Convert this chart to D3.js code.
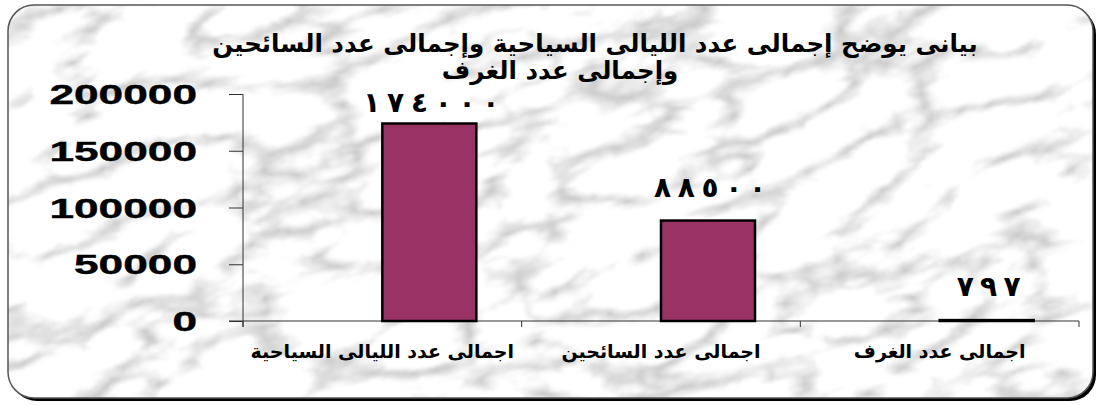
<!DOCTYPE html>
<html lang="ar">
<head>
<meta charset="utf-8">
<script src="https://cdn.jsdelivr.net/npm/d3@7"></script>
<style>
  html, body { margin: 0; padding: 0; background: #ffffff; }
  svg { display: block; }
</style>
</head>
<body>
<svg id="chart" width="1099" height="405"></svg>
<script>
// ---- data ----
const categories = ["اجمالى عدد الليالى السياحية", "اجمالى عدد السائحين", "اجمالى عدد الغرف"];
const values = [174000, 88500, 797];
const yTicks = [0, 50000, 100000, 150000, 200000];
const titleLines = ["بيانى يوضح إجمالى عدد الليالى السياحية وإجمالى عدد السائحين", "وإجمالى عدد الغرف"];

const W = 1099, H = 405;
const svg = d3.select("#chart");
const defs = svg.append("defs");

// marble texture filter
const f = defs.append("filter").attr("id", "marble")
  .attr("x", "-50%").attr("y", "-50%").attr("width", "200%").attr("height", "200%")
  .attr("color-interpolation-filters", "sRGB");
f.append("feTurbulence").attr("type", "turbulence")
  .attr("baseFrequency", "0.008 0.018").attr("numOctaves", 5).attr("seed", 11).attr("result", "t");
f.append("feColorMatrix").attr("in", "t").attr("type", "matrix")
  .attr("values", "0.8 0 0 0 0.76  0.8 0 0 0 0.76  0.8 0 0 0 0.76  0 0 0 0 1").attr("result", "c");
f.append("feGaussianBlur").attr("in", "c").attr("stdDeviation", 1.4);

const frame = {x: 8, y: 5, w: 1085, h: 393, r: 26};
defs.append("clipPath").attr("id", "frameClip").append("rect")
  .attr("x", frame.x).attr("y", frame.y).attr("width", frame.w).attr("height", frame.h)
  .attr("rx", frame.r).attr("ry", frame.r);

// shadow (thick dark bottom/right edge)
svg.append("rect")
  .attr("x", frame.x + 3).attr("y", frame.y + 3).attr("width", frame.w).attr("height", frame.h)
  .attr("rx", frame.r).attr("ry", frame.r).attr("fill", "#000");

// marble background
const bg = svg.append("g").attr("clip-path", "url(#frameClip)");
bg.append("rect").attr("x", frame.x).attr("y", frame.y).attr("width", frame.w).attr("height", frame.h).attr("fill", "#e6e6e6");
bg.append("g").attr("transform", "rotate(-15 550 200)")
  .append("rect").attr("x", -200).attr("y", -400).attr("width", 1500).attr("height", 1200)
  .attr("filter", "url(#marble)");
svg.append("rect")
  .attr("x", frame.x).attr("y", frame.y).attr("width", frame.w).attr("height", frame.h)
  .attr("rx", frame.r).attr("ry", frame.r).attr("fill", "none")
  .attr("stroke", "#555").attr("stroke-width", 1.5);

// scales
const x = d3.scaleBand().domain(categories).range([243, 1079]).padding(0);
const y = d3.scaleLinear().domain([0, 200000]).range([321, 94]);
const bw = x.bandwidth();

const fontLatin = "'Liberation Sans', Arial, 'DejaVu Sans', sans-serif";
const fontAr = "'DejaVu Sans', 'Noto Sans', sans-serif";

// title
svg.append("g").selectAll("text").data(titleLines).join("text")
  .attr("x", (d, i) => i === 0 ? 595 : 560).attr("y", (d, i) => 52 + i * 27)
  .attr("text-anchor", "middle").attr("direction", "rtl")
  .attr("font-family", fontAr).attr("font-weight", "bold").attr("font-size", 24.5)
  .attr("fill", "#000").text(d => d);

// y axis
const yAxis = svg.append("g").attr("transform", "translate(243,0)")
  .call(d3.axisLeft(y).tickValues(yTicks).tickSize(14).tickFormat(""));
yAxis.select(".domain").attr("d", "M0,94V327").attr("stroke", "#333");
yAxis.selectAll(".tick line").attr("stroke", "#333");

svg.append("g").selectAll("text").data(yTicks).join("text")
  .attr("transform", d => `translate(197,${y(d) + 10}) scale(1.58,1)`)
  .attr("text-anchor", "end")
  .attr("font-family", fontLatin).attr("font-weight", "bold").attr("font-size", 28)
  .attr("stroke", "#000").attr("stroke-width", 0.4)
  .attr("fill", "#000").text(d => d);

// x axis
const xAxis = svg.append("g").attr("transform", "translate(0,321)")
  .call(d3.axisBottom(x).tickSize(0).tickFormat(""));
xAxis.select(".domain").attr("d", "M229,0H1079").attr("stroke", "#333");
svg.append("g").selectAll("line").data(categories.concat(["end"])).join("line")
  .attr("x1", (d, i) => 243 + i * bw).attr("x2", (d, i) => 243 + i * bw)
  .attr("y1", 321).attr("y2", 327).attr("stroke", "#333");

svg.append("g").selectAll("text").data(categories).join("text")
  .attr("x", d => x(d) + bw / 2).attr("y", 358)
  .attr("text-anchor", "middle").attr("direction", "rtl")
  .attr("font-family", fontAr).attr("font-weight", "bold").attr("font-size", 19)
  .attr("fill", "#000").text(d => d);

// bars
const barW = 94;
svg.append("g").selectAll("rect").data(values).join("rect")
  .attr("x", (d, i) => x(categories[i]) + bw / 2)
  .attr("y", d => y(d))
  .attr("width", barW)
  .attr("height", d => y(0) - y(d))
  .attr("fill", "#993366").attr("stroke", "#000").attr("stroke-width", 2.5);

// value labels in Eastern Arabic digits
const toAr = s => String(s).replace(/[0-9]/g, c => "٠١٢٣٤٥٦٧٨٩"[+c]);
svg.append("g").selectAll("text").data(values).join("text")
  .attr("x", (d, i) => x(categories[i]) + bw / 2 + barW / 2 + 2)
  .attr("y", d => Math.max(y(d) - 24, 112))
  .attr("text-anchor", "middle")
  .attr("font-family", fontAr).attr("font-weight", "bold").attr("font-size", 28)
  .attr("textLength", d => String(d).length * 24 - 8)
  .attr("lengthAdjust", "spacing")
  .attr("fill", "#000").text(d => toAr(d));
</script>
</body>
</html>
